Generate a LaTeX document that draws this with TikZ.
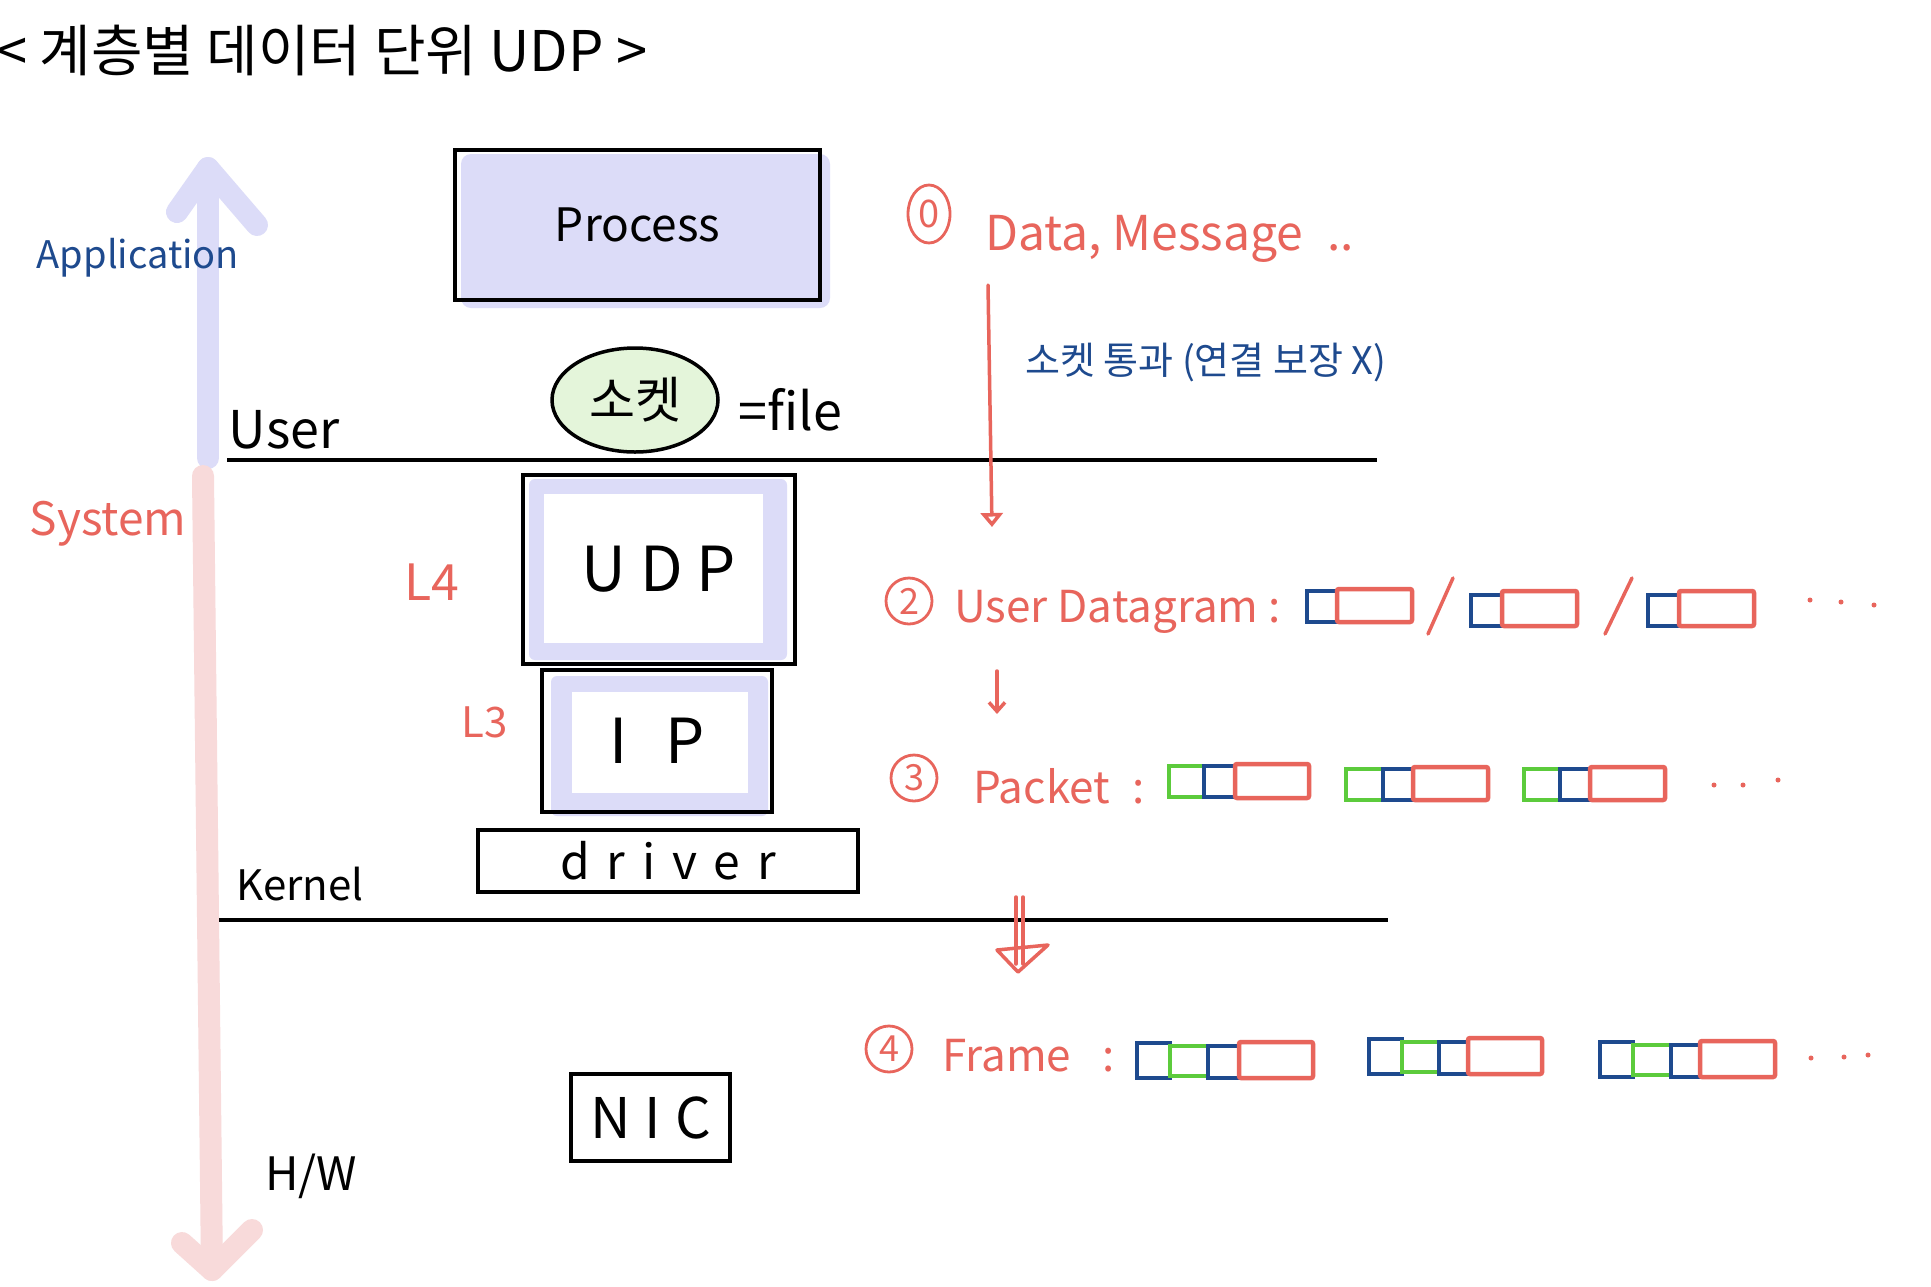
\documentclass[tikz,border=0pt]{standalone}
\usepackage{fontspec}
\setmainfont{Noto Sans CJK KR}
\usetikzlibrary{arrows.meta,shapes.geometric}
\definecolor{redc}{HTML}{E8655C}
\definecolor{bluec}{HTML}{1E4A8E}
\definecolor{greenc}{HTML}{5CCB3C}
\definecolor{lav}{HTML}{DCDCF8}
\definecolor{pinkc}{HTML}{F8DADA}
\definecolor{sockfill}{HTML}{E4F5DA}
\newcommand{\myfs}[1]{\fontsize{#1}{#1}\selectfont}
\begin{document}
\begin{tikzpicture}[x=1pt,y=-1pt,
  blk/.style={draw=black,line width=4pt},
  txt/.style={inner sep=0pt,text=black},
  redtxt/.style={inner sep=0pt,text=redc},
  bluetxt/.style={inner sep=0pt,text=bluec},
  lavarrow/.style={draw=lav,line width=22pt,line cap=round,line join=round},
  pinkarrow/.style={draw=pinkc,line width=22pt,line cap=round,line join=round},
  redline/.style={draw=redc,line width=3.5pt,line cap=round,line join=round},
  numc/.style={circle,draw=redc,line width=2.8pt,minimum size=46pt,inner sep=0pt,text=redc,font=\myfs{36}},
  bq/.style={draw=bluec,line width=4.5pt},
  gq/.style={draw=greenc,line width=4.5pt},
  rq/.style={draw=redc,line width=4.5pt,rounded corners=2pt},
  dotc/.style={fill=redc}
]
\useasboundingbox (0,0) rectangle (1931,1286);
\fill[white] (0,0) rectangle (1931,1286);

% title
\node[txt,anchor=west,font=\myfs{56}] (title) at (-4,50) {< 계층별 데이터 단위 UDP >};

% application / system arrows
\coordinate (appB) at (208,458);
\coordinate (appT) at (208,168);
\coordinate (appL) at (177,212);
\coordinate (appR) at (257,225);
\draw[lavarrow] (appB) -- (appT);
\draw[lavarrow] (appL) -- (appT) -- (appR);
\coordinate (sysT) at (203,476);
\coordinate (sysB) at (212,1270);
\coordinate (sysL) at (182,1243);
\coordinate (sysR) at (252,1230);
\draw[pinkarrow] (sysT) -- (sysB);
\draw[pinkarrow] (sysL) -- (sysB) -- (sysR);

\node[bluetxt,font=\myfs{38}] (app) at (138,258) {Application};
\node[redtxt,font=\myfs{46}] (sys) at (108,524) {System};
\node[txt,font=\myfs{52}] (user) at (284,430) {User};
\node[txt,font=\myfs{42}] (kern) at (300,884) {Kernel};
\node[txt,font=\myfs{46}] (hw) at (311,1176) {H/W};

% process
\fill[lav,rounded corners=10pt] (461,154) rectangle (830,308);
\node[blk,minimum width=365pt,minimum height=150pt,font=\myfs{46}] (proc) at (637.5,225) {Process};

% socket
\node[draw=black,line width=3.5pt,ellipse,fill=sockfill,minimum width=166pt,minimum height=104pt,font=\myfs{50}] (sock) at (635,400) {소켓};
\node[txt,font=\myfs{52}] (file) at (790,410) {=file};

% layer lines
\coordinate (uL) at (227,460);
\coordinate (uR) at (1377,460);
\draw[line width=3.5pt] (uL) -- (uR);
\coordinate (kL) at (219,920);
\coordinate (kR) at (1388,920);
\draw[line width=3.5pt] (kL) -- (kR);

% UDP
\fill[lav,rounded corners=6pt] (529,479) rectangle (787,660);
\fill[white] (544,494) rectangle (763,643);
\node[blk,minimum width=272pt,minimum height=189pt,font=\myfs{62}] (udp) at (659,569.5) {U D P};
\node[redtxt,font=\myfs{50}] (l4) at (432,582) {L4};

% IP
\fill[lav,rounded corners=6pt] (551,676) rectangle (768,816);
\fill[white] (572,692) rectangle (748,793);
\node[blk,minimum width=230pt,minimum height=142pt,font=\myfs{62}] (ip) at (657,741) {I\hspace{0.6em}P};
\node[redtxt,font=\myfs{42}] (l3) at (485,722) {L3};

% driver
\node[blk,minimum width=380pt,minimum height=62pt,font=\myfs{48}] (drv) at (668,861) {d\hspace{0.35em}r\hspace{0.35em}i\hspace{0.35em}v\hspace{0.35em}e\hspace{0.35em}r};

% NIC
\node[blk,minimum width=159pt,minimum height=87pt,font=\myfs{56}] (nic) at (650.5,1117.5) {N\hspace{0.25em}I\hspace{0.25em}C};

% right side: data
\node[ellipse,draw=redc,line width=2.8pt,minimum width=42pt,minimum height=58pt,inner sep=0pt,text=redc,font=\myfs{38}] (n0) at (929,214) {0};
\node[redtxt,anchor=base west,font=\myfs{48}] (data) at (985,250) {Data, Message\hspace{0.5em}..};
\node[bluetxt,anchor=west,font=\myfs{38}] (sockpass) at (1025,363) {소켓 통과 (연결 보장 X)};
\coordinate (a1s) at (988,285);
\coordinate (a1e) at (992,527);
\draw[redline,-{Triangle[open,length=14pt,width=22pt]}] (a1s) -- (a1e);

% user datagram
\node[numc] (n2) at (909,601) {2};
\node[redtxt,anchor=base west,font=\myfs{44}] (dg) at (954,622) {User Datagram :};
\draw[bq] (1307,591) rectangle (1337,622);
\draw[rq] (1337,589) rectangle (1412,622);
\coordinate (s1a) at (1428,634); \coordinate (s1b) at (1453,578);
\draw[redline] (s1a) -- (s1b);
\draw[bq] (1471,595) rectangle (1502,626);
\draw[rq] (1502,591) rectangle (1577,626);
\coordinate (s2a) at (1605,634); \coordinate (s2b) at (1632,578);
\draw[redline] (s2a) -- (s2b);
\draw[bq] (1648,595) rectangle (1679,626);
\draw[rq] (1679,591) rectangle (1754,626);
\fill[dotc] (1810,600) circle (2.5pt);
\fill[dotc] (1841,602) circle (2.5pt);
\fill[dotc] (1874,605) circle (2.5pt);

\coordinate (a2s) at (997,671);
\coordinate (a2e) at (997,714);
\draw[redline,-{Straight Barb[length=9pt,width=16pt]}] (a2s) -- (a2e);

% packet
\node[numc] (n3) at (914,778) {3};
\node[redtxt,anchor=base west,font=\myfs{44}] (pk) at (973,803) {Packet\hspace{0.5em}:};
\draw[gq] (1169,766) rectangle (1204,797);
\draw[bq] (1204,766) rectangle (1235,797);
\draw[rq] (1235,764) rectangle (1309,798);
\draw[gq] (1346,769) rectangle (1383,800);
\draw[bq] (1383,769) rectangle (1413,800);
\draw[rq] (1413,767) rectangle (1488,800);
\draw[gq] (1524,769) rectangle (1560,800);
\draw[bq] (1560,769) rectangle (1590,800);
\draw[rq] (1590,767) rectangle (1665,800);
\fill[dotc] (1714,785) circle (2.5pt);
\fill[dotc] (1743,785) circle (2.5pt);
\fill[dotc] (1778,780) circle (2.5pt);

% double arrow
\coordinate (d1a) at (1016,897); \coordinate (d1b) at (1016,964);
\coordinate (d2a) at (1023,897); \coordinate (d2b) at (1023,964);
\draw[redline] (d1a) -- (d1b);
\draw[redline] (d2a) -- (d2b);
\coordinate (dtl) at (997,950); \coordinate (dtr) at (1048,945); \coordinate (dtt) at (1018,972);
\draw[redline] (dtl) -- (dtt) -- (dtr) -- cycle;

% frame
\node[numc] (n4) at (889,1049) {4};
\node[redtxt,anchor=base west,font=\myfs{44}] (fr) at (942,1071) {Frame\hspace{0.7em}:};
\draw[bq] (1137,1043) rectangle (1170,1078);
\draw[gq] (1170,1046) rectangle (1208,1076);
\draw[bq] (1208,1046) rectangle (1239,1078);
\draw[rq] (1239,1042) rectangle (1313,1078);
\draw[bq] (1369,1039) rectangle (1402,1074);
\draw[gq] (1402,1042) rectangle (1439,1072);
\draw[bq] (1439,1042) rectangle (1468,1074);
\draw[rq] (1468,1038) rectangle (1542,1074);
\draw[bq] (1600,1042) rectangle (1633,1077);
\draw[gq] (1633,1045) rectangle (1671,1075);
\draw[bq] (1671,1045) rectangle (1700,1077);
\draw[rq] (1700,1041) rectangle (1775,1077);
\fill[dotc] (1811,1058) circle (2.5pt);
\fill[dotc] (1844,1057) circle (2.5pt);
\fill[dotc] (1868,1055) circle (2.5pt);
\end{tikzpicture}
\end{document}
